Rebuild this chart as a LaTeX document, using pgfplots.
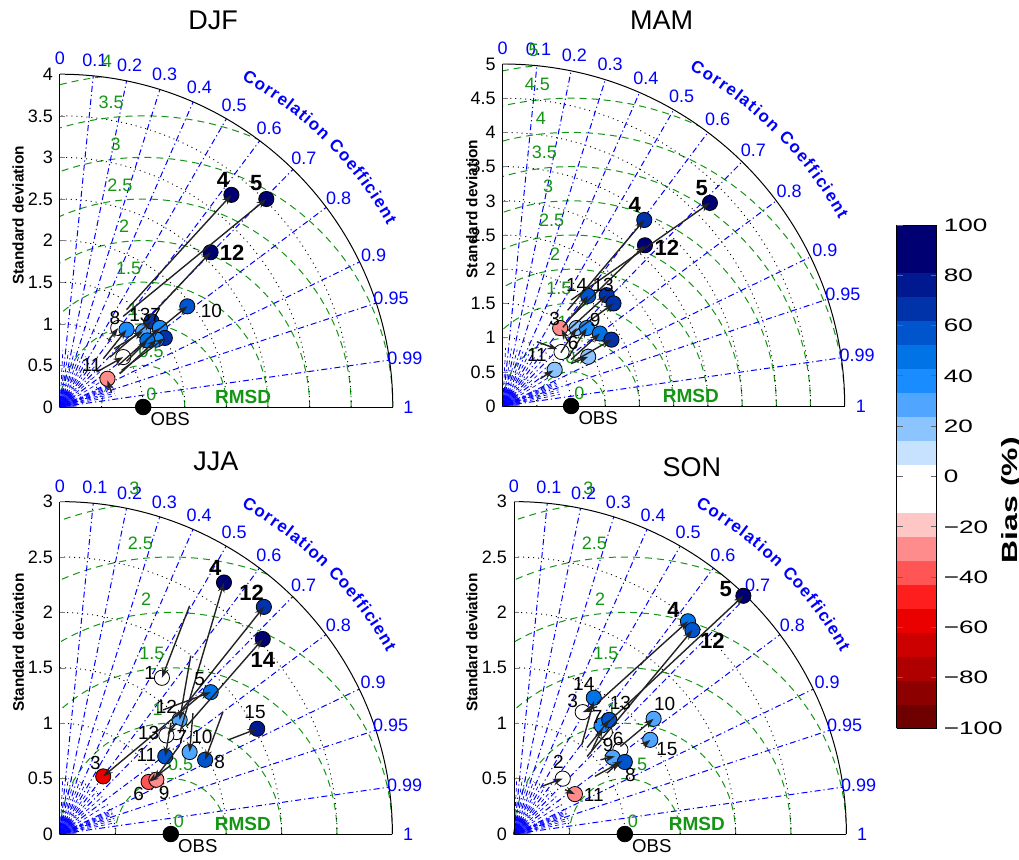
\documentclass[border=0pt]{standalone}
\usepackage{fontspec}
\setmainfont{Liberation Sans}
\newfontfamily\widefont[FakeStretch=1.45]{Liberation Sans}
\usepackage{pgfplots}
\pgfplotsset{compat=1.18}
\usetikzlibrary{decorations.text,arrows.meta}

\definecolor{rmsdgreen}{RGB}{20,150,20}
\definecolor{corblue}{RGB}{0,0,255}
\definecolor{arrowc}{RGB}{35,35,35}

\pgfplotsset{
  colormap={bias}{rgb255=(110,0,0) rgb255=(140,0,0) rgb255=(175,0,0) rgb255=(205,0,0)
    rgb255=(235,0,0) rgb255=(255,30,30) rgb255=(255,85,85) rgb255=(255,140,140)
    rgb255=(255,198,198) rgb255=(255,255,255) rgb255=(255,255,255) rgb255=(198,226,255)
    rgb255=(140,196,255) rgb255=(80,165,255) rgb255=(25,140,255) rgb255=(0,115,230)
    rgb255=(0,85,205) rgb255=(0,50,170) rgb255=(0,25,145) rgb255=(0,0,115) rgb255=(0,0,115)},
  taylor/.style={anchor=south west, xmin=0, ymin=0, clip=false, clip marker paths=true,
    axis x line*=bottom, axis y line*=left, xtick=\empty,
    axis line style={black, line width=0.5pt},
    tick align=inside, major tick length=2.5pt, ytick distance=0.5,
    tick label style={font=\fontsize{9}{10}\selectfont},
    /pgf/number format/assume math mode=true,
    ylabel={Standard deviation},
    ylabel style={font=\bfseries\fontsize{7.7}{8}\selectfont, anchor=center},
    colormap name=bias, colormap access=piecewise constant,
    point meta min=-100, point meta max=100},
  pts/.style={scatter, only marks, mark=*, mark size=3.8pt, point meta=explicit,
    scatter/use mapped color={draw=black, fill=mapped color}, mark options={line width=0.4pt}},
  arr/.style={draw=arrowc, line width=0.7pt, -{Stealth[length=5pt,width=3.4pt]},
    quiver={u=\thisrow{x1}-\thisrow{x0}, v=\thisrow{y1}-\thisrow{y0},
      every arrow/.append style={-{Stealth[length=5pt,width=3.4pt]}, draw=arrowc, fill=arrowc, line width=0.7pt}}},
  obs/.style={only marks, mark=*, mark size=3.9pt, black},
}
\tikzset{
  ttl/.style={font=\fontsize{13.5}{15}\selectfont, anchor=center, inner sep=0pt},
  lb/.style={font=\fontsize{9.5}{10}\selectfont, inner sep=0pt, anchor=center},
  lbb/.style={font=\bfseries\fontsize{11}{12}\selectfont, inner sep=0pt, anchor=center},
  rmsd/.style={rmsdgreen, line width=0.5pt, dash pattern=on 3.5pt off 2.5pt},
  sdgrid/.style={black, line width=0.45pt, dash pattern=on 0.5pt off 2pt},
  corgrid/.style={corblue, line width=0.5pt, dash pattern=on 3pt off 1.5pt on 0.6pt off 1.5pt},
  corlab/.style={corblue, font=\fontsize{9}{10}\selectfont, inner sep=0pt},
  rmsdlab/.style={rmsdgreen, font=\fontsize{9}{10}\selectfont, inner sep=0pt},
}

% background of one Taylor diagram: #1 = max std, #2 = unit, #3 = origin
\newcommand{\taylorbg}[3]{%
\begin{scope}[shift={#3}, x=#2, y=#2]
  \pgfmathsetmacro\Rm{#1-0.5}
  \begin{scope}
    \clip (0,0) -- (#1,0) arc[start angle=0,end angle=90,radius=#1] -- cycle;
    \foreach \r in {0.5,1,...,#1} \draw[rmsd] (1,0) circle[radius=\r];
  \end{scope}
  \foreach \r in {0.5,1,...,\Rm} \draw[sdgrid] (\r,0) arc[start angle=0,end angle=90,radius=\r];
  \foreach \c in {0.1,0.2,0.3,0.4,0.5,0.6,0.7,0.8,0.9,0.95,0.99}
    \draw[corgrid] (0,0) -- ({acos(\c)}:#1);
  \foreach \c in {0.05,0.15,0.25,0.35,0.45,0.55,0.65,0.75,0.85,0.91,0.92,0.93,0.94,0.96,0.97,0.98}
    \draw[corblue, line width=0.35pt, dash pattern=on 2pt off 1.5pt] (0,0) -- ({acos(\c)}:{0.17*#1});
  \foreach \a in {0,3,...,87}
    \draw[corblue, line width=0.25pt] (0,0) -- (\a:{0.05*#1});
  \draw[black, line width=0.5pt] (#1,0) arc[start angle=0,end angle=90,radius=#1];
  \foreach \c in {0,0.1,0.2,0.3,0.4,0.5,0.6,0.7,0.8,0.9,0.95,0.99,1}
    \node[corlab] at ({acos(\c)}:{1.047*#1}) {\c};
  \path[decorate, decoration={text along path, text align=fit to path, text color=corblue,
      text={|\bfseries\fontsize{8.5}{9}\selectfont|Correlation Coefficient}}]
    (61:{1.125*#1}) arc[start angle=61, end angle=29, radius={1.125*#1}];
  \foreach \r in {0,0.5,...,#1}{%
    \pgfmathsetmacro\th{\r<0.25 ? 57 : (\r<0.75 ? 82 : 96)}%
    \path (1,0) ++(\th:{\r+0.045*#1}) node[rmsdlab] {\pgfmathprintnumber{\r}};}
  \node[rmsdgreen, font=\bfseries\fontsize{9.5}{10}\selectfont, inner sep=0pt] at ({0.55*#1},{0.03*#1}) {RMSD};
  \node[anchor=north west, inner sep=0pt, font=\fontsize{9.3}{10}\selectfont] at ([xshift=3.5pt,yshift=-2.5pt]1,0) {OBS};
\end{scope}}

\pgfkeys{/pgf/number format/assume math mode=true}

\begin{document}
\begin{tikzpicture}
\path[use as bounding box] (0,0) rectangle (509.5pt,-429.5pt);

% ---------------- DJF ----------------
\taylorbg{4}{41.6pt}{(30pt,-203.5pt)}
\begin{axis}[taylor, at={(30pt,-203.5pt)}, x=41.6pt, y=41.6pt, xmax=4, ymax=4,
  ylabel style={at={(axis description cs:-0.126,0.576)}}]
\addplot[obs] coordinates {(1,0)};
\addplot[pts] table[meta=b] {
x y b
2.06 2.55 95
2.48 2.50 95
1.81 1.86 85
1.53 1.21 55
0.57 0.34 -25
0.70 0.95 0
0.80 0.93 35
1.00 0.91 25
1.10 1.03 65
1.20 0.95 35
1.26 0.83 65
1.16 0.81 35
1.05 0.80 45
0.76 0.60 0
};
\addplot[arr] table[x=x0,y=y0] {
x0 y0 x1 y1
0.80 1.17 2.06 2.55
0.76 1.09 2.48 2.50
1.00 1.00 1.81 1.86
1.04 0.81 1.53 1.21
0.62 0.17 0.57 0.32
0.44 0.42 0.76 0.60
0.52 0.58 0.80 0.93
0.60 0.60 1.10 1.03
0.70 0.50 1.20 0.95
0.74 0.44 1.26 0.83
0.72 0.40 1.16 0.81
0.65 0.70 1.00 0.91
0.58 0.80 0.70 0.95
0.80 0.55 1.05 0.80
};
\node[ttl] at (axis description cs:0.46,1.162) {DJF};
\node[lbb] at (axis cs:1.96,2.73) {4};
\node[lbb] at (axis cs:2.36,2.69) {5};
\node[lbb] at (axis cs:2.07,1.85) {12};
\node[lb] at (axis cs:1.82,1.16) {10};
\node[lb] at (axis cs:0.38,0.50) {11};
\node[lb] at (axis cs:0.66,1.07) {8};
\node[lb] at (axis cs:0.96,1.11) {13};
\node[lb] at (axis cs:1.15,1.11) {7};
\end{axis}

% ---------------- MAM ----------------
\taylorbg{5}{34.2pt}{(251.35pt,-203pt)}
\begin{axis}[taylor, at={(251.35pt,-203pt)}, x=34.2pt, y=34.2pt, xmax=5, ymax=5,
  ylabel style={at={(axis description cs:-0.09,0.576)}}]
\addplot[obs] coordinates {(1,0)};
\addplot[pts] table[meta=b] {
x y b
3.03 2.97 95
2.07 2.72 65
2.08 2.35 85
1.25 1.61 60
1.52 1.62 70
1.62 1.50 65
0.84 1.14 -25
1.08 1.14 20
1.23 1.14 35
1.42 1.06 50
1.59 0.97 70
0.86 0.79 0
1.25 0.72 20
0.76 0.53 20
};
\addplot[arr] table[x=x0,y=y0] {
x0 y0 x1 y1
0.95 1.40 2.07 2.72
1.00 1.30 2.08 2.35
1.00 1.55 3.03 2.97
0.88 1.15 1.25 1.61
0.95 1.10 1.52 1.62
1.00 1.05 1.62 1.50
0.85 0.78 1.08 1.14
0.95 0.70 1.23 1.14
1.00 0.68 1.42 1.06
1.05 0.66 1.59 0.97
1.00 0.62 1.25 0.72
0.50 0.94 0.80 0.83
0.55 0.40 0.74 0.52
0.95 0.95 0.86 1.12
};
\node[ttl] at (axis description cs:0.465,1.129) {MAM};
\node[lbb] at (axis cs:2.91,3.18) {5};
\node[lbb] at (axis cs:1.93,2.94) {4};
\node[lbb] at (axis cs:2.40,2.31) {12};
\node[lb] at (axis cs:1.08,1.77) {14};
\node[lb] at (axis cs:1.47,1.77) {13};
\node[lb] at (axis cs:0.76,1.28) {3};
\node[lb] at (axis cs:1.35,1.26) {9};
\node[lb] at (axis cs:0.50,0.75) {11};
\node[lb] at (axis cs:1.03,0.92) {6};
\end{axis}

% ---------------- JJA ----------------
\taylorbg{3}{55.4pt}{(30pt,-417pt)}
\begin{axis}[taylor, at={(30pt,-417pt)}, x=55.4pt, y=55.4pt, xmax=3, ymax=3,
  ylabel style={at={(axis description cs:-0.125,0.576)}}]
\addplot[obs] coordinates {(1,0)};
\addplot[pts] table[meta=b] {
x y b
1.48 2.27 95
1.84 2.05 65
1.83 1.76 95
1.36 1.28 45
0.92 1.41 0
1.08 1.03 25
1.05 0.92 0
0.96 0.89 0
1.17 0.74 30
0.95 0.70 55
1.31 0.67 60
1.78 0.95 75
0.39 0.52 -55
0.80 0.47 -35
0.87 0.49 -25
};
\addplot[arr] table[x=x0,y=y0] {
x0 y0 x1 y1
1.17 2.06 0.92 1.41
1.08 0.91 1.48 2.27
1.05 1.06 1.84 2.05
1.14 0.97 1.83 1.76
0.93 1.12 1.36 1.28
1.29 1.27 0.39 0.52
1.18 1.61 1.08 1.03
1.00 1.00 0.95 0.70
1.20 1.09 1.17 0.74
1.47 1.10 1.31 0.67
1.52 0.85 1.78 0.95
1.08 0.80 0.85 0.49
1.00 0.62 0.80 0.47
1.05 1.00 0.97 0.90
};
\node[ttl] at (axis description cs:0.469,1.122) {JJA};
\node[lbb] at (axis cs:1.40,2.40) {4};
\node[lbb] at (axis cs:1.73,2.18) {12};
\node[lbb] at (axis cs:1.83,1.57) {14};
\node[lb] at (axis cs:1.26,1.40) {5};
\node[lb] at (axis cs:0.81,1.45) {1};
\node[lb] at (axis cs:0.96,1.15) {12};
\node[lb] at (axis cs:0.80,0.91) {13};
\node[lb] at (axis cs:1.10,0.88) {7};
\node[lb] at (axis cs:1.28,0.88) {10};
\node[lb] at (axis cs:0.78,0.71) {11};
\node[lb] at (axis cs:1.44,0.65) {8};
\node[lb] at (axis cs:1.76,1.10) {15};
\node[lb] at (axis cs:0.32,0.64) {3};
\node[lb] at (axis cs:0.71,0.36) {6};
\node[lb] at (axis cs:0.94,0.37) {9};
\end{axis}

% ---------------- SON ----------------
\taylorbg{3}{55.4pt}{(257pt,-417pt)}
\begin{axis}[taylor, at={(257pt,-417pt)}, x=55.4pt, y=55.4pt, xmax=3, ymax=3,
  ylabel style={at={(axis description cs:-0.127,0.576)}}]
\addplot[obs] coordinates {(1,0)};
\addplot[pts] table[meta=b] {
x y b
2.07 2.15 95
1.57 1.92 45
1.61 1.84 60
0.72 1.23 45
0.62 1.10 0
0.82 0.92 0
0.79 0.98 35
0.86 1.03 55
1.26 1.04 25
1.23 0.85 30
0.96 0.76 0
0.89 0.69 30
1.00 0.65 60
0.44 0.50 0
0.55 0.36 -25
};
\addplot[arr] table[x=x0,y=y0] {
x0 y0 x1 y1
0.75 1.18 1.57 1.92
0.66 0.70 1.61 1.84
0.84 1.00 2.07 2.15
0.61 0.80 0.72 1.20
0.75 1.15 0.62 1.10
0.66 0.78 0.86 1.03
0.70 0.75 0.80 0.96
0.96 0.79 1.26 1.04
1.17 0.80 1.23 0.85
0.78 0.67 0.91 0.70
0.73 0.52 0.98 0.66
0.84 0.55 0.95 0.65
0.25 0.43 0.44 0.50
0.46 0.40 0.55 0.36
};
\node[ttl] at (axis description cs:0.535,1.102) {SON};
\node[lbb] at (axis cs:1.91,2.21) {5};
\node[lbb] at (axis cs:1.44,2.02) {4};
\node[lbb] at (axis cs:1.79,1.74) {12};
\node[lb] at (axis cs:0.63,1.35) {14};
\node[lb] at (axis cs:0.53,1.20) {3};
\node[lb] at (axis cs:0.96,1.18) {13};
\node[lb] at (axis cs:0.75,1.06) {7};
\node[lb] at (axis cs:1.36,1.17) {10};
\node[lb] at (axis cs:1.38,0.77) {15};
\node[lb] at (axis cs:0.94,0.86) {6};
\node[lb] at (axis cs:0.85,0.80) {9};
\node[lb] at (axis cs:1.05,0.53) {8};
\node[lb] at (axis cs:0.40,0.65) {2};
\node[lb] at (axis cs:0.72,0.35) {11};
\end{axis}

% ---------------- colour bar ----------------
\begin{axis}[at={(448.35pt,-364pt)}, anchor=south west, scale only axis,
  width=20pt, height=251.5pt, hide axis, xmin=0, xmax=1, ymin=0, ymax=1,
  colormap name=bias, colormap access=piecewise constant,
  point meta min=-100, point meta max=100,
  colorbar, colorbar style={at={(0,0)}, anchor=south west, width=20pt,
    ytick={-100,-80,...,100},
    yticklabels={−100,−80,−60,−40,−20,0,20,40,60,80,100},
    yticklabel style={font=\widefont\fontsize{9}{10}\selectfont},
    ytick pos=both, yticklabel pos=right,
    tick align=inside, major tick length=3pt, tick style={black!60, line width=0.5pt},
    axis line style={black, line width=0.5pt},
    ylabel={Bias (\%)},
    ylabel style={font=\widefont\bfseries\fontsize{11}{13}\selectfont,
      at={(axis description cs:2.875,0.453)}, anchor=center}}]
\addplot[draw=none] coordinates {(0,0)};
\end{axis}
\end{tikzpicture}
\end{document}
